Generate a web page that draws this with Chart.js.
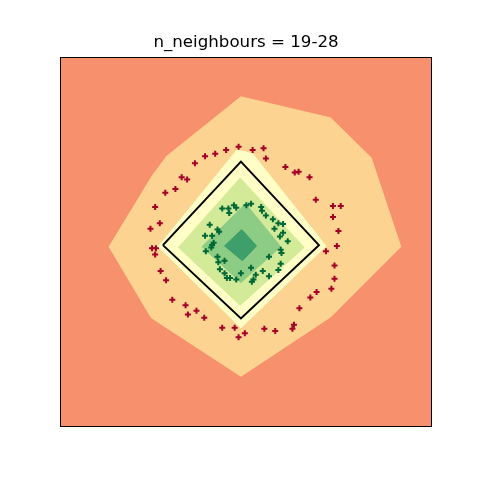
<!DOCTYPE html>
<html>
<head>
<meta charset="utf-8">
<script src="https://cdn.jsdelivr.net/npm/chart.js@4.4.1/dist/chart.umd.min.js"></script>
<style>html,body{margin:0;padding:0;background:#fff;}canvas{display:block;}</style>
</head>
<body>
<canvas id="c" width="480" height="480"></canvas>
<script>
const titleText = "n_neighbours = 19-28";
const xRange = [-2.32, 2.45];
const yRange = [-2.33, 2.41];

// class 0 (outer ring, red)
const redX = [-0.03,0.15,0.29,-0.19,-0.33,-0.46,-0.59,0.32,0.57,0.69,0.74,0.88,-0.76,-0.69,-0.84,-0.97,0.96,1.18,1.28,-1.10,1.18,-1.04,-1.16,1.25,1.23,-1.14,-1.09,-1.10,1.09,1.20,-1.03,-0.96,1.20,1.16,0.97,0.89,-0.88,-0.71,-0.57,0.75,-0.68,-0.47,-0.24,-0.08,0.30,0.44,0.68,0.66,0.05,-0.03];
const redY = [1.26,1.22,1.24,1.22,1.17,1.14,1.05,1.11,1.00,0.93,0.94,0.87,0.87,0.84,0.72,0.67,0.58,0.50,0.50,0.49,0.36,0.28,0.21,0.18,-0.01,-0.04,-0.04,-0.12,-0.08,-0.26,-0.33,-0.45,-0.43,-0.56,-0.60,-0.67,-0.70,-0.77,-0.84,-0.81,-0.89,-0.93,-1.06,-1.06,-1.07,-1.10,-1.02,-1.07,-1.13,-1.18];

// class 1 (inner cluster, green)
const greenX = [-0.24,-0.16,-0.15,-0.09,-0.06,0.07,0.13,0.26,0.27,0.32,0.41,0.48,0.54,0.43,0.54,0.50,0.60,-0.40,-0.30,-0.28,-0.46,-0.37,-0.35,-0.37,-0.38,-0.45,0.51,0.52,0.36,-0.30,-0.29,-0.21,0.51,-0.27,0.13,0.48,0.28,-0.21,-0.18,-0.14,-0.06,0.00,0.19,0.16,0.36,0.14];
const greenY = [0.47,0.47,0.41,0.51,0.48,0.51,0.53,0.49,0.44,0.38,0.33,0.28,0.27,0.21,0.16,0.11,0.05,0.26,0.20,0.17,0.12,0.12,0.03,0.00,-0.03,-0.08,-0.06,-0.10,-0.15,-0.15,-0.22,-0.20,-0.24,-0.31,-0.29,-0.32,-0.33,-0.36,-0.42,-0.42,-0.44,-0.36,-0.38,-0.44,-0.40,-0.47];

// decision-region contours (outer to inner)
const regionOuterX = [0.00,1.15,1.67,2.05,1.15,0.00,-1.15,-1.69,-1.13,-0.95,0.00];
const regionOuterY = [1.90,1.63,1.12,-0.02,-0.92,-1.68,-0.93,-0.02,0.90,1.14,1.90];
const regionHaloX = [-0.05,0.15,1.09,0.00,-1.06,-0.05];
const regionHaloY = [1.22,1.17,-0.01,-1.06,-0.02,1.22];
const regionLightX = [-0.01,0.81,-0.01,-0.80,-0.01];
const regionLightY = [0.86,-0.03,-0.77,-0.03,0.86];
const regionMidX = [0.06,0.51,0.00,-0.50,0.06];
const regionMidY = [0.53,-0.02,-0.48,-0.02,0.53];
const regionCoreX = [0.01,0.20,0.02,-0.21,0.01];
const regionCoreY = [0.20,-0.01,-0.20,-0.01,0.20];

// true boundary
const boundaryX = [-1.00,0.00,1.00,0.00,-1.00];
const boundaryY = [0.00,1.07,0.00,-0.94,0.00];

const pts = (xs, ys) => xs.map((x, i) => ({x: x, y: ys[i]}));

function region(xs, ys, color, order) {
  return {
    type: 'line', data: pts(xs, ys), parsing: false,
    borderColor: color, borderWidth: 1, backgroundColor: color,
    fill: 'shape', pointRadius: 0, tension: 0, order: order
  };
}

const bgPlugin = {
  id: 'bg',
  beforeDraw(chart) {
    const {ctx, chartArea: a} = chart;
    ctx.save();
    ctx.fillStyle = '#f7916d';
    ctx.fillRect(a.left, a.top, a.right - a.left, a.bottom - a.top);
    ctx.restore();
  },
  afterDraw(chart) {
    const {ctx, chartArea: a} = chart;
    ctx.save();
    ctx.strokeStyle = '#000';
    ctx.lineWidth = 1;
    ctx.strokeRect(Math.round(a.left) + 0.5, Math.round(a.top) + 0.5,
                   Math.round(a.right - a.left) - 1, Math.round(a.bottom - a.top) - 1);
    ctx.restore();
  }
};

new Chart(document.getElementById('c'), {
  type: 'scatter',
  data: {
    datasets: [
      region(regionOuterX, regionOuterY, '#fdd392', 10),
      region(regionHaloX, regionHaloY, '#fefec6', 9),
      region(regionLightX, regionLightY, '#d3eb98', 8),
      region(regionMidX, regionMidY, '#8ccc84', 7),
      region(regionCoreX, regionCoreY, '#3e9f6b', 6),
      {
        type: 'line', data: pts(boundaryX, boundaryY), parsing: false,
        borderColor: '#000', borderWidth: 2, fill: false, pointRadius: 0, tension: 0, order: 5
      },
      {
        data: pts(redX, redY), pointStyle: 'cross', pointRadius: 3,
        borderColor: '#a50026', borderWidth: 2, order: 2
      },
      {
        data: pts(greenX, greenY), pointStyle: 'cross', pointRadius: 3,
        borderColor: '#006837', borderWidth: 2, order: 1
      }
    ]
  },
  options: {
    responsive: false,
    animation: false,
    devicePixelRatio: 1,
    layout: {padding: {left: 60, right: 48, top: 0, bottom: 53}},
    scales: {
      x: {type: 'linear', min: xRange[0], max: xRange[1], display: false},
      y: {type: 'linear', min: yRange[0], max: yRange[1], display: false}
    },
    plugins: {
      legend: {display: false},
      tooltip: {enabled: false},
      title: {
        display: true, text: titleText, color: '#000',
        font: {family: 'DejaVu Sans', size: 16.67, weight: 'normal'},
        padding: {top: 33, bottom: 4}
      }
    }
  },
  plugins: [bgPlugin]
});
</script>
</body>
</html>
